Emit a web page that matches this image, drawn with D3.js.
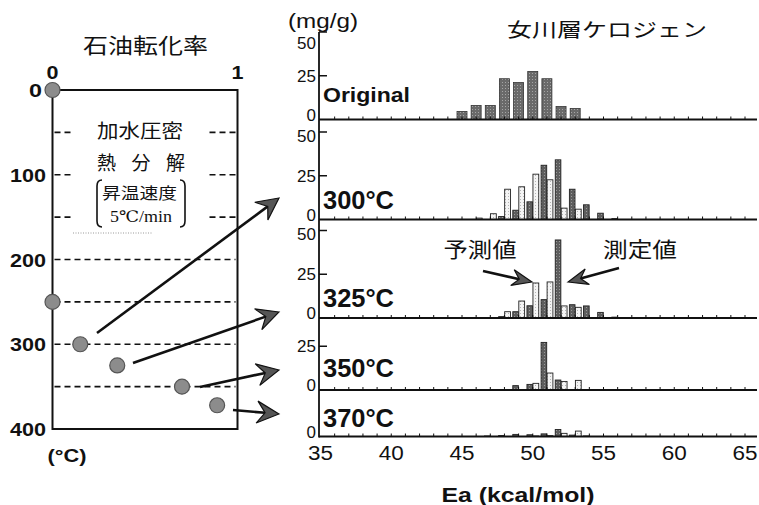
<!DOCTYPE html>
<html>
<head>
<meta charset="utf-8">
<script src="https://cdn.jsdelivr.net/npm/d3@7"></script>
<style>
  body { margin: 0; background: #fff; }
  svg { display: block; }
</style>
</head>
<body>
<script>
// ---- data ----
// left panel: oil conversion vs. temperature
const conversion  = [0, 0, 0.15, 0.35, 0.70, 0.89];
const temperature = [0, 250, 300, 325, 350, 372];
const tempTicks = [0, 100, 200, 300, 400];
const convTicks = [0, 1];

// right panels: Ea distribution (mg/g), measured (dark) and predicted (light)
const ea = [45, 46, 47, 48, 49, 50, 51, 52, 53, 54, 55, 56];
const original     = [4.6, 8, 8, 23.3, 21.1, 27.4, 23.3, 7.4, 6.3, 0, 0, 0];
const measured300  = [0, 0, 0, 1.7, 5.3, 10.1, 31, 34.1, 17.3, 8.4, 3.6, 0.5];
const predicted300 = [0, 0.8, 3.3, 17.3, 18.7, 25.9, 22.7, 6.5, 5.9, 0, 0, 0];
const measured325  = [0, 0, 0, 0.8, 3.6, 7, 10.5, 44.6, 7.6, 6.9, 3.2, 0.5];
const predicted325 = [0, 0, 0, 3.6, 9.7, 20, 20.6, 6.9, 6.1, 0, 0, 0];
const measured350  = [0, 0, 0, 0, 2.5, 3.2, 27.2, 5.7, 0, 0, 0, 0];
const predicted350 = [0, 0, 0, 0, 0, 3.8, 9.7, 4.9, 5.5, 0, 0, 0];
const measured370  = [0, 0, 0.3, 0.6, 1.2, 1.0, 1.5, 4.0, 0.8, 0.3, 0, 0];
const predicted370 = [0, 0, 0, 0, 0, 0.3, 0.5, 1.8, 3.1, 0, 0, 0];

const panelNames = ["Original", "300°C", "325°C", "350°C", "370°C"];
const panelTicks = [[0, 25, 50], [0, 25, 50], [0, 25, 50], [0, 25], [0]];
const eaTicks = [35, 40, 45, 50, 55, 60, 65];

// ---- layout ----
const W = 759, H = 505;
const SANS = "'Liberation Sans', Arial, sans-serif";
const CJK = "'Noto Sans CJK JP', sans-serif";
const SERIF = "'Liberation Serif', 'DejaVu Serif', serif";

const svg = d3.select("body").append("svg")
  .attr("width", W).attr("height", H)
  .style("background", "#fff");

const defs = svg.append("defs");
function stipple(id, base, dot) {
  const p = defs.append("pattern").attr("id", id)
    .attr("patternUnits", "userSpaceOnUse").attr("width", 3).attr("height", 3);
  p.append("rect").attr("width", 3).attr("height", 3).attr("fill", base);
  p.append("rect").attr("x", 1).attr("y", 1).attr("width", 1).attr("height", 1).attr("fill", dot);
}
stipple("darkDots", "#5e5e5e", "#9a9a9a");
stipple("origDots", "#6a6a6a", "#a5a5a5");
stipple("lightDots", "#f4f4f4", "#b5b5b5");

function txt(x, y, s, o = {}) {
  const t = svg.append("text")
    .attr("x", x).attr("y", y)
    .attr("font-family", o.family || SANS)
    .attr("font-size", o.size || 18)
    .attr("font-weight", o.weight || "normal")
    .attr("text-anchor", o.anchor || "start")
    .attr("fill", "#111")
    .text(s);
  if (o.len) t.attr("textLength", o.len).attr("lengthAdjust", "spacingAndGlyphs");
  if (o.spacing) t.attr("letter-spacing", o.spacing);
  return t;
}

function arrow(x1, y1, x2, y2, len, half, notch) {
  const a = Math.atan2(y2 - y1, x2 - x1);
  const bx = x2 - Math.cos(a) * (len - notch), by = y2 - Math.sin(a) * (len - notch);
  svg.append("line").attr("x1", x1).attr("y1", y1).attr("x2", bx).attr("y2", by)
    .attr("stroke", "#111").attr("stroke-width", 2.6);
  svg.append("path")
    .attr("d", `M0,0 L${-len},${-half} L${-len + notch},0 L${-len},${half} Z`)
    .attr("transform", `translate(${x2},${y2}) rotate(${a * 180 / Math.PI})`)
    .attr("fill", "#555").attr("stroke", "#111").attr("stroke-width", 1.2)
    .attr("stroke-linejoin", "miter");
}

// ---- left panel ----
const xConv = d3.scaleLinear().domain([0, 1]).range([52.5, 237.5]);
const yTemp = d3.scaleLinear().domain([0, 400]).range([90, 429]);

txt(145.5, 53, "石油転化率", { family: CJK, size: 21, anchor: "middle", len: 125 });

// dashed guide lines
[200, 250, 300, 350].forEach(t => {
  svg.append("line").attr("x1", xConv(0) + 2).attr("x2", xConv(1) - 2)
    .attr("y1", yTemp(t)).attr("y2", yTemp(t))
    .attr("stroke", "#111").attr("stroke-width", 1.6).attr("stroke-dasharray", "6,4");
});
[50, 100, 150].forEach(t => {
  [[xConv(0) + 2, xConv(0) + 22], [xConv(1) - 28, xConv(1) - 2]].forEach(([a, b]) => {
    svg.append("line").attr("x1", a).attr("x2", b)
      .attr("y1", yTemp(t)).attr("y2", yTemp(t))
      .attr("stroke", "#111").attr("stroke-width", 1.6).attr("stroke-dasharray", "6,4");
  });
});
svg.append("line").attr("x1", 73).attr("x2", 152).attr("y1", 233).attr("y2", 233)
  .attr("stroke", "#999").attr("stroke-width", 1).attr("stroke-dasharray", "1,1.5");

svg.append("rect")
  .attr("x", xConv(0)).attr("y", yTemp(0))
  .attr("width", xConv(1) - xConv(0)).attr("height", yTemp(400) - yTemp(0))
  .attr("fill", "none").attr("stroke", "#111").attr("stroke-width", 2);

tempTicks.forEach(t => {
  txt(t === 0 ? 42 : 46, yTemp(t) + 7, String(t), { size: 19, weight: "bold", anchor: "end", len: t === 0 ? 13 : 36 });
});
convTicks.forEach(c => {
  txt(xConv(c), 79, String(c), { size: 19, weight: "bold", anchor: "middle", len: 12 });
});
txt(67, 462, "(°C)", { size: 19, weight: "bold", anchor: "middle", len: 39 });

// conditions text
txt(97, 138, "加水圧密", { family: CJK, size: 19, len: 86 });
txt(97, 170, "熱分解", { family: CJK, size: 19, spacing: 15.5 });
txt(139.5, 199, "昇温速度", { family: CJK, size: 16, anchor: "middle", len: 75 });
txt(141, 222, "5℃/min", { family: SERIF, size: 16, anchor: "middle", len: 62 });
svg.append("path").attr("d", "M102,180 Q97,180 97,186 L97,221 Q97,227 102,227")
  .attr("fill", "none").attr("stroke", "#111").attr("stroke-width", 1.6);
svg.append("path").attr("d", "M180,180 Q185,180 185,186 L185,221 Q185,227 180,227")
  .attr("fill", "none").attr("stroke", "#111").attr("stroke-width", 1.6);

// arrows from experiment points to the distributions
arrow(97, 333, 279, 198, 22, 11, 8);
arrow(133, 363, 279, 312, 22, 11, 8);
arrow(200, 387, 279, 370, 22, 11, 8);
arrow(233, 410, 279, 414, 22, 11, 8);

svg.selectAll(".pt")
  .data(conversion.map((c, i) => [c, temperature[i]]))
  .enter().append("circle")
  .attr("class", "pt")
  .attr("cx", d => xConv(d[0])).attr("cy", d => yTemp(d[1]))
  .attr("r", 7.5)
  .attr("fill", "#8c8c8c").attr("stroke", "#555").attr("stroke-width", 1.2);

// ---- right panels ----
const xEa = d3.scaleLinear().domain([35, 65]).range([320.5, 745]);
const axisX = 319;
const baselines = [119.5, 219.5, 318, 390, 436.5];
const labelY = [102, 209, 307, 377, 427];
const pxPerUnit = 1.75;

const panels = [
  { single: original },
  { measured: measured300, predicted: predicted300 },
  { measured: measured325, predicted: predicted325 },
  { measured: measured350, predicted: predicted350 },
  { measured: measured370, predicted: predicted370 }
];

txt(288, 28, "(mg/g)", { size: 20, len: 70 });
txt(507, 37, "女川層ケロジェン", { family: CJK, size: 19, len: 200 });

panels.forEach((p, i) => {
  const y0 = baselines[i];
  const y = d3.scaleLinear().domain([0, 50]).range([y0, y0 - 50 * pxPerUnit]);
  const g = svg.append("g");

  if (p.single) {
    g.selectAll("rect").data(ea.map((e, j) => [e, p.single[j]]).filter(d => d[1] > 0))
      .enter().append("rect")
      .attr("x", d => xEa(d[0]) - 5).attr("width", 10)
      .attr("y", d => y(d[1])).attr("height", d => y0 - y(d[1]))
      .attr("fill", "url(#origDots)").attr("stroke", "#333").attr("stroke-width", 0.8);
  } else {
    g.selectAll(".m").data(ea.map((e, j) => [e, p.measured[j]]).filter(d => d[1] > 0))
      .enter().append("rect").attr("class", "m")
      .attr("x", d => xEa(d[0]) - 5.8).attr("width", 5.6)
      .attr("y", d => y(d[1])).attr("height", d => y0 - y(d[1]))
      .attr("fill", "url(#darkDots)").attr("stroke", "#222").attr("stroke-width", 0.9);
    g.selectAll(".p").data(ea.map((e, j) => [e, p.predicted[j]]).filter(d => d[1] > 0))
      .enter().append("rect").attr("class", "p")
      .attr("x", d => xEa(d[0]) + 0.2).attr("width", 5.8)
      .attr("y", d => y(d[1])).attr("height", d => y0 - y(d[1]))
      .attr("fill", "url(#lightDots)").attr("stroke", "#222").attr("stroke-width", 0.9);
  }

  // baseline with minor ticks
  svg.append("line").attr("x1", axisX).attr("x2", 757).attr("y1", y0).attr("y2", y0)
    .attr("stroke", "#111").attr("stroke-width", 2);
  d3.range(36, 66).forEach(e => {
    svg.append("line").attr("x1", xEa(e)).attr("x2", xEa(e))
      .attr("y1", y0).attr("y2", y0 - 3)
      .attr("stroke", "#111").attr("stroke-width", 1);
  });

  panelTicks[i].forEach(t => {
    if (t > 0) {
      svg.append("line").attr("x1", axisX).attr("x2", axisX + 8)
        .attr("y1", y(t)).attr("y2", y(t))
        .attr("stroke", "#111").attr("stroke-width", 1.5);
    }
    let dy = t === 0 ? 1 : (t === 50 ? 9.5 : 6);
    if (i === 0 && t === 50) dy = 17;
    txt(316, y(t) + dy, String(t), { size: 17, anchor: "end" });
  });

  const isOrig = i === 0;
  txt(323, labelY[i], panelNames[i], {
    size: isOrig ? 20 : 25, weight: "bold", len: isOrig ? 87 : 71
  });
});

// vertical axis
svg.append("line").attr("x1", axisX).attr("x2", axisX)
  .attr("y1", baselines[0] - 50 * pxPerUnit).attr("y2", baselines[4] + 1)
  .attr("stroke", "#111").attr("stroke-width", 1.8);

// bottom axis labels
eaTicks.forEach(e => {
  txt(xEa(e), 460, String(e), { size: 20, anchor: "middle", len: 25 });
});
txt(518, 502, "Ea (kcal/mol)", { size: 21, weight: "bold", anchor: "middle", len: 153 });

// annotations in the 325°C panel
txt(480, 257, "予測値", { family: CJK, size: 21, anchor: "middle", len: 73 });
txt(640, 257, "測定値", { family: CJK, size: 21, anchor: "middle", len: 74 });
arrow(483, 271, 532, 282, 20, 8, 7);
arrow(619, 268, 568, 282, 20, 8, 7);
</script>
</body>
</html>
